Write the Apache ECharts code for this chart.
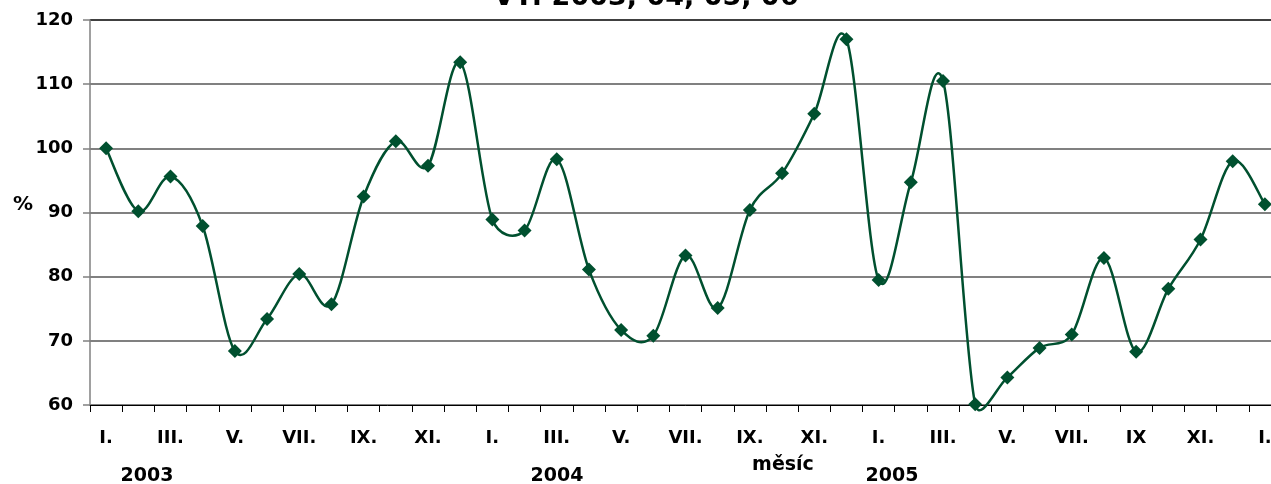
<!DOCTYPE html>
<html>
<head>
<meta charset="utf-8">
<script src="https://cdn.jsdelivr.net/npm/echarts@6/dist/echarts.min.js"></script>
<style>html,body{margin:0;padding:0;background:#fff;overflow:hidden}#c{width:1281px;height:484px}</style>
</head>
<body>
<div id="c"></div>
<script>
const months = ['I.','II.','III.','IV.','V.','VI.','VII.','VIII.','IX.','X.','XI.','XII.',
                'I.','II.','III.','IV.','V.','VI.','VII.','VIII.','IX.','X.','XI.','XII.',
                'I.','II.','III.','IV.','V.','VI.','VII.','VIII.','IX','X.','XI.','XII.',
                'I.'];
const values = [100.0, 90.2, 95.6, 87.9, 68.4, 73.4, 80.4, 75.7, 92.5, 101.1, 97.3, 113.4,
                88.9, 87.2, 98.3, 81.1, 71.7, 70.8, 83.3, 75.1, 90.4, 96.1, 105.4, 117.0,
                79.5, 94.7, 110.5, 60.1, 64.3, 68.9, 71.0, 82.9, 68.3, 78.1, 85.8, 98.0,
                91.3];
const years = ['2003', '2004', '2005'];
const titleText = 'VT: 2003, 04, 05, 06';
const yTicks = [60, 70, 80, 90, 100, 110, 120];

const FONT = 'DejaVu Sans';
const GREEN = '#00502f';
const chart = echarts.init(document.getElementById('c'), null, {renderer: 'canvas'});
const yearX = [147, 557, 892];
const n = values.length;

function dist(a, b) { return Math.hypot(a[0] - b[0], a[1] - b[1]); }

function renderSegment(params, api) {
  const i = params.dataIndex;
  if (i >= n - 1) return null;
  const idx = k => Math.max(0, Math.min(n - 1, k));
  const P = k => api.coord([idx(k), values[idx(k)]]);
  const p0 = P(i - 1), p1 = P(i), p2 = P(i + 1), p3 = P(i + 2);
  const d12 = dist(p1, p2);
  let f1 = 1 / 6, f2 = 1 / 6;
  const d02 = dist(p0, p2), d13 = dist(p1, p3);
  if (d02 * f1 > d12 / 2) f1 = d12 / 2 / d02;
  if (d13 * f2 > d12 / 2) f2 = d12 / 2 / d13;
  return {
    type: 'bezierCurve',
    shape: {
      x1: p1[0], y1: p1[1], x2: p2[0], y2: p2[1],
      cpx1: p1[0] + (p2[0] - p0[0]) * f1, cpy1: p1[1] + (p2[1] - p0[1]) * f1,
      cpx2: p2[0] - (p3[0] - p1[0]) * f2, cpy2: p2[1] - (p3[1] - p1[1]) * f2
    },
    style: {stroke: GREEN, lineWidth: 2.5, fill: null}
  };
}

chart.setOption({
  animation: false,
  backgroundColor: '#fff',
  grid: {left: 90, top: 20, right: 0, height: 385, containLabel: false},
  xAxis: {
    type: 'category',
    data: months,
    boundaryGap: true,
    axisLine: {lineStyle: {color: '#000', width: 1}},
    axisTick: {show: true, length: 7, interval: 0, lineStyle: {color: '#000'}},
    axisLabel: {interval: 1, margin: 24, color: '#000', fontFamily: FONT, fontWeight: 'bold', fontSize: 18},
    splitLine: {show: false}
  },
  yAxis: {
    type: 'value',
    min: yTicks[0], max: yTicks[yTicks.length - 1], interval: 10,
    axisLine: {show: true, lineStyle: {color: '#808080', width: 1.5}},
    axisTick: {show: true, length: 7, lineStyle: {color: '#808080', width: 1.5}},
    axisLabel: {margin: 17, color: '#000', fontFamily: FONT, fontWeight: 'bold', fontSize: 18},
    splitLine: {show: true, lineStyle: {color: ['#808080','#808080','#808080','#808080','#808080','#808080','#404040'], width: 2}}
  },
  graphic: [
    {type: 'text', x: 646, y: -2, style: {text: titleText, font: 'bold 27px "' + FONT + '"', fill: '#000', align: 'center', verticalAlign: 'middle'}},
    {type: 'text', x: 23, y: 205, style: {text: '%', font: 'bold 20px "' + FONT + '"', fill: '#000', align: 'center', verticalAlign: 'middle'}},
    {type: 'text', x: 783, y: 465, style: {text: 'měsíc', font: 'bold 19px "' + FONT + '"', fill: '#000', align: 'center', verticalAlign: 'middle'}}
  ].concat(years.map((y, i) => ({type: 'text', x: yearX[i], y: 476, style: {text: y, font: 'bold 19px "' + FONT + '"', fill: '#000', align: 'center', verticalAlign: 'middle'}}))),
  series: [{
    type: 'custom',
    data: values.map((v, i) => [i, v]),
    encode: {x: 0, y: 1},
    renderItem: renderSegment,
    clip: false,
    z: 2
  }, {
    type: 'scatter',
    data: values,
    symbol: 'diamond',
    symbolSize: 14,
    itemStyle: {color: GREEN, opacity: 1},
    z: 3
  }]
});
</script>
</body>
</html>
